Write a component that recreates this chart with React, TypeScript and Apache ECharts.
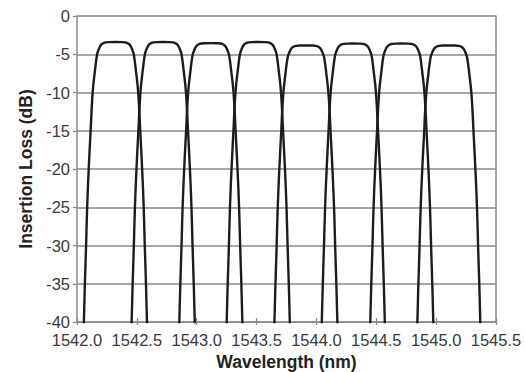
import React, { useEffect, useRef } from "react";
import * as echarts from "echarts";

// Wavelength axis ticks (nm) and loss axis ticks (dB)
const xTickValues = [1542.0, 1542.5, 1543.0, 1543.5, 1544.0, 1544.5, 1545.0, 1545.5];
const yTickValues = [0, -5, -10, -15, -20, -25, -30, -35, -40];

// Channel centre wavelengths (nm) and peak insertion loss (dB)
const channelCenters = [1542.321, 1542.72, 1543.118, 1543.514, 1543.912, 1544.308, 1544.713, 1545.106];
const channelPeaks = [-3.4, -3.4, -3.55, -3.4, -3.85, -3.6, -3.6, -3.85];

// Measured passband shape: distance from centre (nm) vs. drop below peak (dB)
const shapeOffsets = [0, 0.05, 0.08, 0.1, 0.117, 0.13, 0.142, 0.153, 0.17, 0.19, 0.207, 0.223, 0.236, 0.245, 0.255, 0.265];
const shapeDrops = [0, 0.01, 0.05, 0.14, 0.32, 0.62, 1.05, 1.6, 3.6, 6.55, 11.55, 16.55, 21.55, 26.55, 31.55, 37.5];

const FONT = "'Liberation Sans', Arial, Helvetica, sans-serif";

function channelData(center: number, peak: number): number[][] {
  const pts: number[][] = [];
  for (let i = shapeOffsets.length - 1; i > 0; i--) {
    pts.push([center - shapeOffsets[i], peak - shapeDrops[i]]);
  }
  for (let i = 0; i < shapeOffsets.length; i++) {
    pts.push([center + shapeOffsets[i], peak - shapeDrops[i]]);
  }
  return pts;
}

export default function App() {
  const ref = useRef<HTMLDivElement>(null);
  useEffect(() => {
    if (!ref.current) return;
    const chart = echarts.init(ref.current, null, { renderer: "svg" });
    const gray = "#8a8a8a";
    const series = channelCenters.map((c, i) => ({
      type: "line",
      data: channelData(c, channelPeaks[i]),
      smooth: 0.45,
      showSymbol: false,
      symbol: "none",
      clip: true,
      lineStyle: { color: "#1c1c1c", width: 2.4 },
      xAxisIndex: 0,
      yAxisIndex: 0,
    }));
    chart.setOption({
      animation: false,
      backgroundColor: "#ffffff",
      grid: { left: 77, right: 30, top: 16, bottom: 50, outerBoundsMode: "none", containLabel: false },
      xAxis: [
        {
          type: "value",
          min: xTickValues[0],
          max: xTickValues[xTickValues.length - 1],
          interval: 0.5,
          position: "bottom",
          name: "Wavelength (nm)",
          nameLocation: "middle",
          nameGap: 31,
          nameTextStyle: { fontFamily: FONT, fontWeight: "bold", fontSize: 17.5, color: "#222" },
          axisLine: { show: true, onZero: false, lineStyle: { color: gray, width: 1.5 } },
          axisTick: { show: true, inside: true, length: 4, lineStyle: { color: gray, width: 1.3 } },
          axisLabel: {
            fontFamily: FONT,
            fontSize: 16.5,
            color: "#3a3a3a",
            margin: 9,
            formatter: (v: number) => v.toFixed(1),
          },
          splitLine: { show: false },
        },
        {
          type: "value",
          min: xTickValues[0],
          max: xTickValues[xTickValues.length - 1],
          interval: 0.5,
          position: "bottom",
          axisLine: { show: false, onZero: false },
          axisTick: { show: true, inside: false, length: 3, lineStyle: { color: gray, width: 1.3 } },
          axisLabel: { show: false },
          splitLine: { show: false },
        },
      ],
      yAxis: [
        {
          type: "value",
          min: yTickValues[yTickValues.length - 1],
          max: yTickValues[0],
          interval: 5,
          name: "Insertion Loss (dB)",
          nameLocation: "middle",
          nameGap: 38,
          nameTextStyle: { fontFamily: FONT, fontWeight: "bold", fontSize: 17.5, color: "#222" },
          axisLine: { show: true, onZero: false, lineStyle: { color: gray, width: 1.5 } },
          axisTick: { show: true, inside: false, length: 4, lineStyle: { color: gray, width: 1.3 } },
          axisLabel: { fontFamily: FONT, fontSize: 16.5, color: "#3a3a3a", margin: 7 },
          splitLine: { show: true, lineStyle: { color: gray, width: 1.5 } },
        },
        {
          type: "value",
          min: yTickValues[yTickValues.length - 1],
          max: yTickValues[0],
          interval: 5,
          position: "right",
          axisLine: { show: true, onZero: false, lineStyle: { color: gray, width: 1.5 } },
          axisTick: { show: false },
          axisLabel: { show: false },
          splitLine: { show: false },
        },
      ],
      series,
    });
    return () => chart.dispose();
  }, []);
  return (
    <div
      ref={ref}
      style={{ position: "fixed", left: 0, top: 0, width: 526, height: 372, background: "#fff" }}
    />
  );
}
